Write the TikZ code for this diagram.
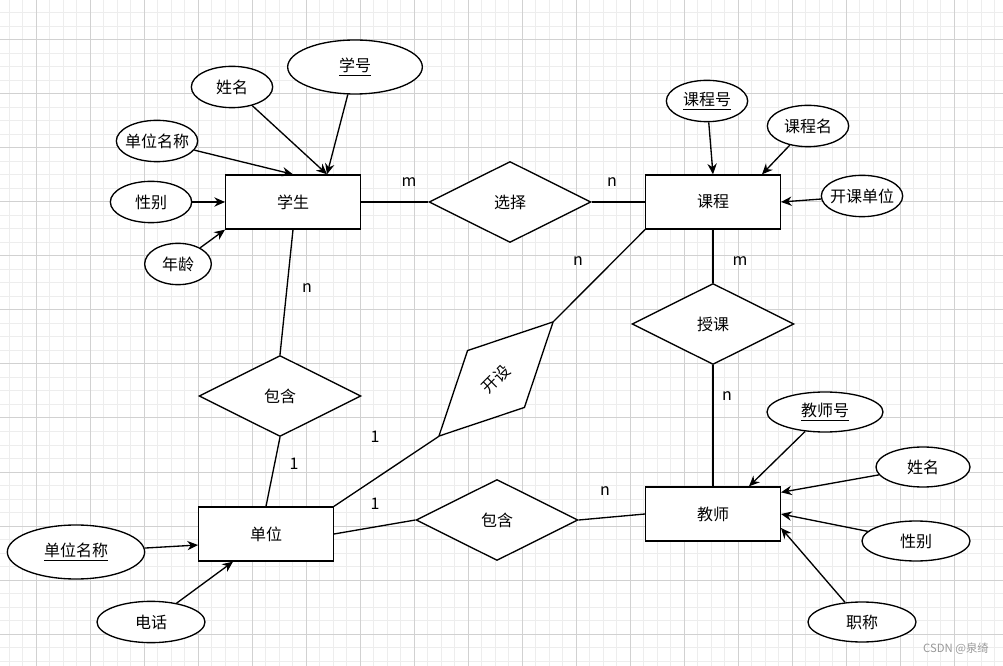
\documentclass[tikz,border=0pt]{standalone}
\usepackage{fontspec}
\setmainfont{Noto Sans CJK SC}
\usetikzlibrary{shapes.geometric,arrows.meta,calc}

\tikzset{
  every node/.style={font=\fontsize{12pt}{14pt}\selectfont},
  entity/.style={draw, line width=1pt, fill=white, minimum width=101pt, minimum height=40.5pt, inner sep=0pt},
  relation/.style={draw, diamond, aspect=2, line width=1pt, fill=white, minimum width=121.5pt, minimum height=60.75pt, inner sep=0pt},
  attr/.style={draw, ellipse, line width=1pt, fill=white, inner xsep=-6pt, inner ysep=0pt},
  conn/.style={line width=1pt},
  arr/.style={line width=1pt, -{Stealth[length=8pt,width=7pt]}},
  card/.style={inner sep=0pt}
}

\begin{document}
\begin{tikzpicture}[x=0.75pt,y=0.75pt,yscale=-1,xscale=1]
\useasboundingbox (0,0) rectangle (1003,666);

% Grid
\fill[white] (0,0) rectangle (1003,666);
\foreach \x in {9,22.5,...,1003} \draw[black!7, line width=0.75pt] (\x,0) -- (\x,666);
\foreach \y in {13,26.5,...,666} \draw[black!7, line width=0.75pt] (0,\y) -- (1003,\y);
\foreach \x in {36,90,...,1003} \draw[black!18, line width=0.75pt] (\x,0) -- (\x,666);
\foreach \y in {40,94,...,666} \draw[black!18, line width=0.75pt] (0,\y) -- (1003,\y);

% Entity
\node[entity] (xs) at (293,202) {学生};
\node[entity] (kc) at (713,202) {课程};
\node[entity] (js) at (713,514) {教师};
\node[entity] (dw) at (266,534) {单位};

% Relation
\node[relation] (xz) at (510,202) {选择};
\node[relation] (sk) at (713,324) {授课};
\node[relation] (bh1) at (280,396) {包含};
\node[relation] (bh2) at (497,520) {包含};
\node[relation, rotate=45] (ks) at (496,379) {开设};

% Attribute
\node[attr, minimum width=101pt, minimum height=40.5pt] (xh) at (355,67) {\underline{学号}};
\node[attr, minimum width=61pt, minimum height=31pt] (xm) at (232,87) {姓名};
\node[attr, minimum width=61pt, minimum height=31pt] (xdw) at (157,141) {单位名称};
\node[attr, minimum width=61pt, minimum height=31pt] (xb) at (151,202) {性别};
\node[attr, minimum width=50pt, minimum height=31pt] (nl) at (178,264) {年龄};
\node[attr, minimum width=61pt, minimum height=31pt] (kh) at (707,101) {\underline{课程号}};
\node[attr, minimum width=61pt, minimum height=31pt] (km) at (808,126) {课程名};
\node[attr, minimum width=61pt, minimum height=31pt] (kdw) at (862,196) {开课单位};
\node[attr, minimum width=87pt, minimum height=30pt] (jh) at (825,412) {\underline{教师号}};
\node[attr, minimum width=70.5pt, minimum height=30pt] (jm) at (923,467) {姓名};
\node[attr, minimum width=81pt, minimum height=30pt] (jb) at (916,541) {性别};
\node[attr, minimum width=81pt, minimum height=30pt] (zc) at (862,622) {职称};
\node[attr, minimum width=103pt, minimum height=40.5pt] (dmc) at (76,552) {\underline{单位名称}};
\node[attr, minimum width=81pt, minimum height=31pt] (dh) at (151,622) {电话};

% Connection
\draw[conn] (xs.east) -- (xz.west);
\draw[conn] (xz.east) -- (kc.west);
\draw[conn] (xs.south) -- (bh1.north);
\draw[conn] (bh1.south) -- (dw.north);
\draw[conn] (kc.south) -- (sk.north);
\draw[conn] (sk.south) -- (js.north);
\draw[conn] (dw.east) -- (bh2.west);
\draw[conn] (bh2.east) -- (js.west);
\draw[conn] (dw.north east) -- (ks.west);
\draw[conn] (ks.east) -- (kc.south west);

% Attribute arrows
\draw[arr] (xh) -- ($(xs.north)+(34,0)$);
\draw[arr] (xm) -- ($(xs.north)+(34,0)$);
\draw[arr] (xdw) -- (xs.north);
\draw[arr] (xb) -- (xs.west);
\draw[arr] (nl) -- (xs.south west);
\draw[arr] (kh) -- (kc.north);
\draw[arr] (km) -- ($(kc.north east)+(-19,0)$);
\draw[arr] (kdw) -- (kc.east);
\draw[arr] (jh) -- ($(js.north)+(36,0)$);
\draw[arr] (jm) -- ($(js.north east)+(0,6)$);
\draw[arr] (jb) -- (js.east);
\draw[arr] (zc) -- ($(js.east)+(0,14)$);
\draw[arr] (dmc) -- ($(dw.west)+(0,11)$);
\draw[arr] (dh) -- ($(dw.south)+(-33,0)$);

% Cardinality
\node[card] (c1) at (409,182) {m};
\node[card] (c2) at (612,182) {n};
\node[card] (c3) at (307,288) {n};
\node[card] (c4) at (294,464) {1};
\node[card] (c5) at (740,261) {m};
\node[card] (c6) at (727,396) {n};
\node[card] (c7) at (375,504) {1};
\node[card] (c8) at (605,491) {n};
\node[card] (c9) at (375,437) {1};
\node[card] (c10) at (578,261) {n};

% Watermark
\node[text=black!40, font=\fontsize{8.5pt}{10pt}\selectfont] (wm) at (956,649) {CSDN @泉绮};

\end{tikzpicture}
\end{document}
